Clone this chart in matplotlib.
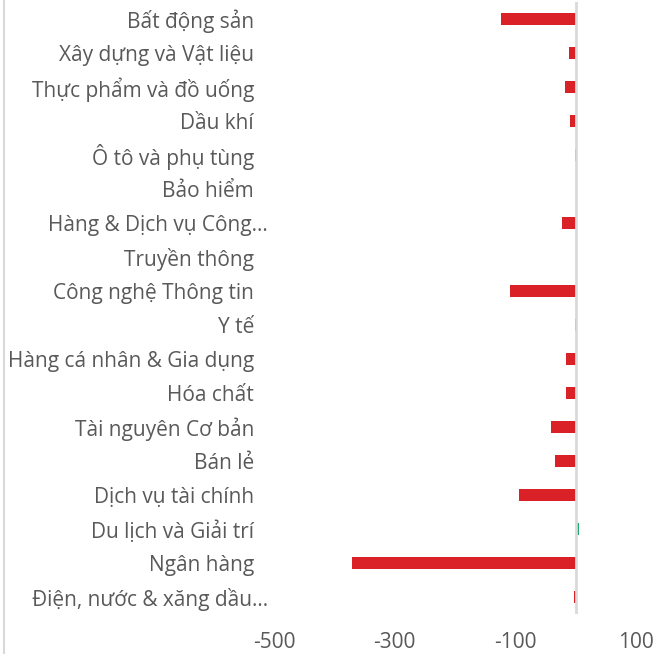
import matplotlib
matplotlib.use("Agg")
import matplotlib.pyplot as plt
import matplotlib.transforms as mtransforms
from matplotlib.lines import Line2D

plt.rcParams['font.family'] = ['Open Sans', 'DejaVu Sans']

# sector net values, top to bottom as shown
sectors = [
    "Bất động sản", "Xây dựng và Vật liệu", "Thực phẩm và đồ uống", "Dầu khí",
    "Ô tô và phụ tùng", "Bảo hiểm", "Hàng & Dịch vụ Công…", "Truyền thông",
    "Công nghệ Thông tin", "Y tế", "Hàng cá nhân & Gia dụng", "Hóa chất",
    "Tài nguyên Cơ bản", "Bán lẻ", "Dịch vụ tài chính", "Du lịch và Giải trí",
    "Ngân hàng", "Điện, nước & xăng dầu…",
]
values = [-123, -11, -18, -9, -0.5, 0, -23, 0,
          -109, -0.5, -16, -16, -41, -34, -94, 6, -370, -3]
xticks = [-500, -300, -100, 100]

RED = "#DA2128"
GREEN = "#1FA86B"
TXT = "#595959"

W, H = 656, 654
fig = plt.figure(figsize=(W / 100, H / 100), dpi=100)
ax = fig.add_axes([274 / W, 40 / H, 362 / W, 612 / H])

ypos = list(range(len(sectors)))
colors = [GREEN if v > 0 else RED for v in values]
ax.barh(ypos, values, height=0.38, color=colors, zorder=2)
ax.axvline(0, color="#d9d9d9", lw=2, zorder=3)

ax.set_xlim(-500, 100)
ax.set_ylim(len(sectors) - 0.5, -0.5)
ax.set_xticks(xticks)
ax.set_xticklabels([str(t) for t in xticks])
ax.tick_params(axis="x", length=0, pad=13, labelsize=15, labelcolor=TXT)
ax.set_yticks([])
for s in ax.spines.values():
    s.set_visible(False)

# category labels, right aligned left of the plot (ellipsis ones overflow a bit)
trans = mtransforms.blended_transform_factory(fig.transFigure, ax.transData)
for y, name in zip(ypos, sectors):
    xr = 268 / W if name.endswith("…") else 254 / W
    ax.text(xr, y, name, transform=trans, ha="right", va="center_baseline",
            fontsize=15, color=TXT)

# thin frame line on the left edge
fig.add_artist(Line2D([4 / W, 4 / W], [0, 1], transform=fig.transFigure,
                      color="#d9d9d9", lw=1.5))

fig.savefig("out.png", dpi=100)
